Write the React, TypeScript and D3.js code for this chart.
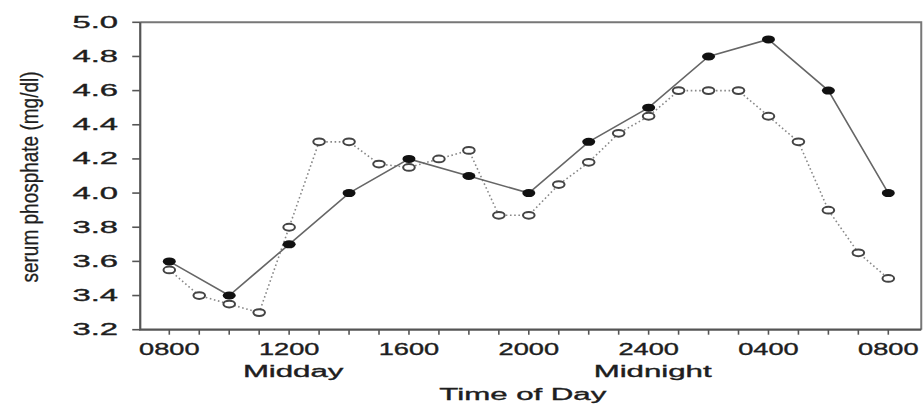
import React, { useRef, useEffect } from "react"
import * as d3 from "d3"

// hours after 0800 on day one
const solidHours = [0, 2, 4, 6, 8, 10, 12, 14, 16, 18, 20, 22, 24]
const solidValues = [3.6, 3.4, 3.7, 4.0, 4.2, 4.1, 4.0, 4.3, 4.5, 4.8, 4.9, 4.6, 4.0]

const openHours = [0, 1, 2, 3, 4, 5, 6, 7, 8, 9, 10, 11, 12, 13, 14, 15, 16, 17, 18, 19, 20, 21, 22, 23, 24]
const openValues = [
  3.55, 3.4, 3.35, 3.3, 3.8, 4.3, 4.3, 4.17, 4.15, 4.2, 4.25, 3.87, 3.87,
  4.05, 4.18, 4.35, 4.45, 4.6, 4.6, 4.6, 4.45, 4.3, 3.9, 3.65, 3.5,
]

const xTickHours = [0, 4, 8, 12, 16, 20, 24]
const xTickLabels = ["0800", "1200", "1600", "2000", "2400", "0400", "0800"]
const yTicks = [3.2, 3.4, 3.6, 3.8, 4.0, 4.2, 4.4, 4.6, 4.8, 5.0]

const dayNotes = [
  { hour: 4, label: "Midday" },
  { hour: 16, label: "Midnight" },
]

const FONT = "'Liberation Sans', Arial, sans-serif"
const INK = "#1e1e1e"

const App: React.FC = () => {
  const svgRef = useRef<SVGSVGElement>(null)

  useEffect(() => {
    if (!svgRef.current) return
    const svg = d3.select(svgRef.current)
    svg.selectAll("*").remove()

    const x = d3.scaleLinear().domain([0, 24]).range([169.3, 888.3])
    const y = d3.scaleLinear().domain([3.2, 5.0]).range([329.7, 22.3])

    const left = x(-0.97)
    const right = x(25.1)
    const top = y(5.0)
    const bottom = y(3.2)

    // frame: top + right lighter, left + bottom axes
    svg.append("path")
      .attr("d", `M${left},${top}H${right}V${bottom}`)
      .attr("fill", "none")
      .attr("stroke", "#777")
      .attr("stroke-width", 2)
    svg.append("path")
      .attr("d", `M${left},${top}V${bottom}H${right}`)
      .attr("fill", "none")
      .attr("stroke", "#555")
      .attr("stroke-width", 2.2)

    const addText = (sel: any) =>
      sel
        .attr("font-family", FONT)
        .attr("font-size", 16)
        .attr("fill", INK)
        .attr("stroke", INK)
        .attr("stroke-width", 0.35)

    // y ticks
    svg.selectAll(".ytick")
      .data(yTicks)
      .enter()
      .append("line")
      .attr("x1", left - 8)
      .attr("x2", left)
      .attr("y1", (d) => y(d))
      .attr("y2", (d) => y(d))
      .attr("stroke", "#555")
      .attr("stroke-width", 1.6)

    addText(
      svg.selectAll(".ylab")
        .data(yTicks)
        .enter()
        .append("text")
        .attr("transform", (d) => `translate(118,${y(d) + 5.5}) scale(2.05,1)`)
        .attr("text-anchor", "end")
    ).text((d: number) => d.toFixed(1))

    // x ticks, hourly
    svg.selectAll(".xtick")
      .data(openHours)
      .enter()
      .append("line")
      .attr("x1", (d) => x(d))
      .attr("x2", (d) => x(d))
      .attr("y1", bottom)
      .attr("y2", bottom + 5)
      .attr("stroke", "#555")
      .attr("stroke-width", 1.6)

    addText(
      svg.selectAll(".xlab")
        .data(xTickHours)
        .enter()
        .append("text")
        .attr("transform", (d) => `translate(${x(d)},355) scale(1.7,1)`)
        .attr("text-anchor", "middle")
    ).text((_: number, i: number) => xTickLabels[i])

    addText(
      svg.selectAll(".note")
        .data(dayNotes)
        .enter()
        .append("text")
        .attr("transform", (d) => `translate(${x(d.hour) + 4},377) scale(1.95,1)`)
        .attr("text-anchor", "middle")
    ).text((d: { label: string }) => d.label)

    addText(
      svg.append("text")
        .attr("transform", `translate(${x(11.8)},400) scale(1.95,1)`)
        .attr("text-anchor", "middle")
    ).text("Time of Day")

    addText(
      svg.append("text")
        .attr("transform", `translate(38,177) scale(1.3,1) rotate(-90)`)
        .attr("text-anchor", "middle")
    )
      .attr("font-size", 19)
      .attr("stroke-width", 0.25)
      .text("serum phosphate (mg/dl)")

    const openPts = openHours.map((h, i) => [h, openValues[i]] as [number, number])
    const solidPts = solidHours.map((h, i) => [h, solidValues[i]] as [number, number])
    const line = d3.line<[number, number]>()
      .x((d) => x(d[0]))
      .y((d) => y(d[1]))

    svg.append("path")
      .attr("d", line(openPts))
      .attr("fill", "none")
      .attr("stroke", "#888")
      .attr("stroke-width", 1.6)
      .attr("stroke-dasharray", "1.6,2.6")

    svg.append("path")
      .attr("d", line(solidPts))
      .attr("fill", "none")
      .attr("stroke", "#666")
      .attr("stroke-width", 1.6)

    svg.selectAll(".open")
      .data(openPts)
      .enter()
      .append("ellipse")
      .attr("cx", (d) => x(d[0]))
      .attr("cy", (d) => y(d[1]))
      .attr("rx", 5.8)
      .attr("ry", 3.4)
      .attr("fill", "white")
      .attr("stroke", "#444")
      .attr("stroke-width", 2)

    svg.selectAll(".solid")
      .data(solidPts)
      .enter()
      .append("ellipse")
      .attr("cx", (d) => x(d[0]))
      .attr("cy", (d) => y(d[1]))
      .attr("rx", 6.5)
      .attr("ry", 4)
      .attr("fill", "#111")
  }, [])

  return (
    <svg
      ref={svgRef}
      width={923}
      height={405}
      style={{ position: "absolute", left: 0, top: 0, background: "white" }}
    />
  )
}

export default App
